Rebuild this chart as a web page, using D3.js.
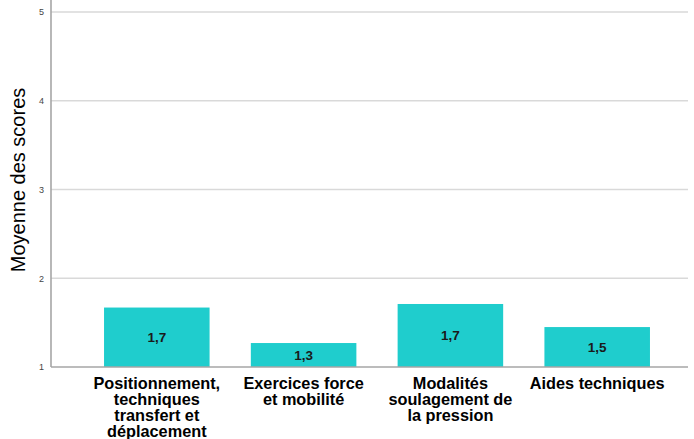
<!DOCTYPE html>
<html><head><meta charset="utf-8">
<script src="https://cdn.jsdelivr.net/npm/d3@7"></script>
<style>body{margin:0;background:#fff}svg{display:block}</style>
</head><body>
<svg id="c" width="694" height="439"></svg>
<script>
const categories = [
  ["Positionnement,", "techniques", "transfert et", "déplacement"],
  ["Exercices force", "et mobilité"],
  ["Modalités", "soulagement de", "la pression"],
  ["Aides techniques"]
];
const values = [1.67, 1.27, 1.71, 1.45];
const valueLabels = ["1,7", "1,3", "1,7", "1,5"];
const yTicks = [1, 2, 3, 4, 5];
const yTitle = "Moyenne des scores";

const svg = d3.select("#c");
const mLeft = 51, mRight = 688, mTop = 12, mBottom = 367;
const y = d3.scaleLinear().domain([1, 5]).range([mBottom, mTop]);
const x = d3.scaleBand().domain(d3.range(values.length)).range([60, 694]).paddingInner(0.281).paddingOuter(0.3);

// gridlines
svg.append("g").selectAll("line").data(yTicks.filter(d => d > 1)).join("line")
  .attr("x1", mLeft).attr("x2", mRight)
  .attr("y1", d => y(d)).attr("y2", d => y(d))
  .attr("stroke", "#d9d9d9").attr("stroke-width", 1.6);

// bars
svg.append("g").selectAll("rect").data(values).join("rect")
  .attr("x", (d, i) => x(i)).attr("width", x.bandwidth())
  .attr("y", d => y(d)).attr("height", d => y(1) - y(d))
  .attr("fill", "#1fcdcd");

// value labels
svg.append("g").selectAll("text").data(values).join("text")
  .attr("x", (d, i) => x(i) + x.bandwidth() / 2)
  .attr("y", d => (y(d) + y(1)) / 2 + 5)
  .attr("text-anchor", "middle")
  .attr("font-family", "Liberation Sans, Arial, sans-serif")
  .attr("font-size", 13.5).attr("font-weight", "bold").attr("fill", "#1a1a1a")
  .text((d, i) => valueLabels[i]);

// y axis
const ya = d3.axisLeft(y).tickValues(yTicks).tickSize(0).tickPadding(7).tickFormat(d3.format("d"));
const gy = svg.append("g").attr("transform", `translate(${mLeft},0)`).call(ya);
gy.select(".domain").remove();
gy.selectAll("text").attr("font-family", "Liberation Sans, Arial, sans-serif").attr("font-size", 9).attr("fill", "#444");
svg.append("line").attr("x1", mLeft).attr("x2", mLeft).attr("y1", 0).attr("y2", mBottom)
  .attr("stroke", "#a6a6a6").attr("stroke-width", 1.6);
svg.append("line").attr("x1", mLeft).attr("x2", mRight).attr("y1", mBottom).attr("y2", mBottom)
  .attr("stroke", "#a6a6a6").attr("stroke-width", 1.6);

// x labels
const xl = svg.append("g").selectAll("text").data(categories).join("text")
  .attr("x", (d, i) => x(i) + x.bandwidth() / 2)
  .attr("y", 389)
  .attr("text-anchor", "middle")
  .attr("font-family", "Liberation Sans, Arial, sans-serif")
  .attr("font-size", 16.3).attr("font-weight", "bold").attr("fill", "#000");
xl.selectAll("tspan").data(d => d).join("tspan")
  .attr("x", function() { return this.parentNode.getAttribute("x"); })
  .attr("dy", (d, i) => i === 0 ? 0 : 16)
  .text(d => d);

// y title
svg.append("text").attr("transform", `translate(25,180) rotate(-90)`)
  .attr("text-anchor", "middle")
  .attr("font-family", "Liberation Sans, Arial, sans-serif")
  .attr("font-size", 20).attr("fill", "#000")
  .text(yTitle);
</script>
</body></html>
